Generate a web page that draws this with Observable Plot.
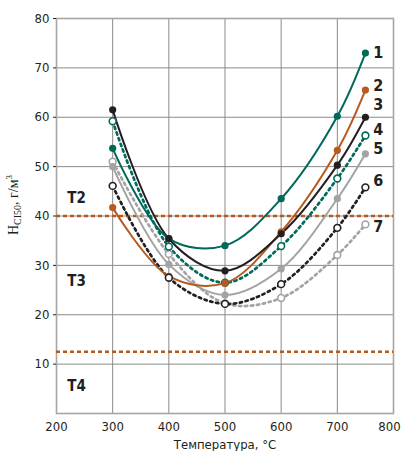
<!DOCTYPE html>
<html><head><meta charset="utf-8">
<script src="https://cdn.jsdelivr.net/npm/d3@7"></script>
<script src="https://cdn.jsdelivr.net/npm/@observablehq/plot@0.6"></script>
<style>
body{margin:0;background:#fff;}
#chart svg{display:block;}
</style>
</head><body>
<div id="chart"></div>
<script>
const temps = [300, 400, 500, 600, 700, 750];
const s1 = [53.7, 35.4, 34.0, 43.5, 60.2, 73.0];
const s2 = [41.7, 27.8, 26.4, 36.8, 53.3, 65.5];
const s3 = [61.5, 35.4, 28.9, 36.4, 50.3, 60.0];
const s4 = [59.2, 33.8, 26.5, 33.9, 47.6, 56.3];
const s5 = [50.0, 30.2, 24.0, 29.3, 43.5, 52.6];
const s6 = [46.1, 27.5, 22.2, 26.2, 37.6, 45.8];
const s7 = [51.0, 32.3, 22.3, 23.4, 32.1, 38.3];
const seriesNames = ["1", "2", "3", "4", "5", "6", "7"];
const labelY = [73.0, 66.4, 62.6, 57.4, 53.6, 47.2, 37.7];
const zoneNames = ["T2", "T3", "T4"];
const zoneY = [43.7, 26.7, 5.6];
const limits = [40, 12.5];
const xTicks = [200, 300, 400, 500, 600, 700, 800];
const yTicks = [10, 20, 30, 40, 50, 60, 70, 80];

const TEAL = "#00695a", ORANGE = "#b65a1e", BLACK = "#231f20", GREY = "#a3a3a3";
const styles = {
  "1": {color: TEAL, dotted: false},
  "2": {color: ORANGE, dotted: false},
  "3": {color: BLACK, dotted: false},
  "4": {color: TEAL, dotted: true},
  "5": {color: GREY, dotted: false},
  "6": {color: BLACK, dotted: true},
  "7": {color: GREY, dotted: true}
};
const allSeries = [s1, s2, s3, s4, s5, s6, s7];
const rows = (name) => {
  const vals = allSeries[seriesNames.indexOf(name)];
  return temps.map((t, i) => ({t, v: vals[i], s: name}));
};

const marks = [
  Plot.gridX(xTicks.slice(1, -1), {stroke: "#8a8a8a", strokeOpacity: 1, strokeWidth: 1}),
  Plot.gridY(yTicks.slice(0, -1), {stroke: "#8a8a8a", strokeOpacity: 1, strokeWidth: 1}),
  Plot.frame({stroke: "#a6a6a6", strokeWidth: 1.6}),
  Plot.ruleY(limits, {stroke: ORANGE, strokeWidth: 2.6, strokeDasharray: "4,3"}),
  Plot.axisX({ticks: xTicks.slice(0, -1), tickSize: 0, tickPadding: 8, label: "Температура, °C", labelAnchor: "center", labelArrow: "none", labelOffset: 35, fontSize: 13}),
  Plot.axisX({ticks: xTicks.slice(-1), tickSize: 0, tickPadding: 8, label: null, fontSize: 13, dx: -4}),
  Plot.axisY({ticks: yTicks, tickSize: 3, tickPadding: 4, label: null, fontSize: 13})
];
// lines
for (const name of ["7", "6", "5", "4", "2", "3", "1"]) {
  const st = styles[name];
  marks.push(Plot.line(rows(name), {
    x: "t", y: "v", curve: "catmull-rom",
    stroke: st.color,
    strokeWidth: st.dotted ? 2.7 : 2,
    strokeDasharray: st.dotted ? "2.4,3.6" : null
  }));
}
// dots
for (const name of ["7", "4", "1", "2", "5", "3", "6"]) {
  const st = styles[name];
  marks.push(Plot.dot(rows(name), {
    x: "t", y: "v",
    r: st.dotted ? 3.4 : 3.6,
    fill: st.dotted ? "#fff" : st.color,
    stroke: st.color,
    strokeWidth: st.dotted ? 1.6 : 0
  }));
}
marks.push(Plot.text(seriesNames, {
  x: 764, y: (d, i) => labelY[i], text: d => d, textAnchor: "start",
  fontWeight: "bold", fontSize: 16, fill: BLACK
}));
marks.push(Plot.text(zoneNames, {
  x: 219, y: (d, i) => zoneY[i], text: d => d, textAnchor: "start",
  fontWeight: "bold", fontSize: 15, fill: BLACK
}));

const chart = Plot.plot({
  width: 403, height: 451,
  marginLeft: 56, marginRight: 10, marginTop: 18, marginBottom: 38,
  style: {fontFamily: "'Liberation Sans Narrow', 'DejaVu Sans Condensed', 'Roboto', sans-serif", fontSize: "13px", color: "#231f20", background: "#fff"},
  x: {domain: [200, 800]},
  y: {domain: [0, 80]},
  marks
});
document.getElementById("chart").append(chart);

// y-axis label with subscript / superscript
const svg = d3.select(chart);
const lab = svg.append("text")
  .attr("transform", "translate(18,205) rotate(-90)")
  .attr("text-anchor", "middle")
  .attr("font-family", "'Liberation Serif', 'DejaVu Serif', serif")
  .attr("font-size", 14)
  .attr("fill", "#231f20");
lab.append("tspan").text("H");
lab.append("tspan").attr("font-size", 10).attr("dy", 3).text("CI50");
lab.append("tspan").attr("dy", -3).text(", г/м");
lab.append("tspan").attr("font-size", 9).attr("dy", -6).text("3");
</script>
</body></html>
